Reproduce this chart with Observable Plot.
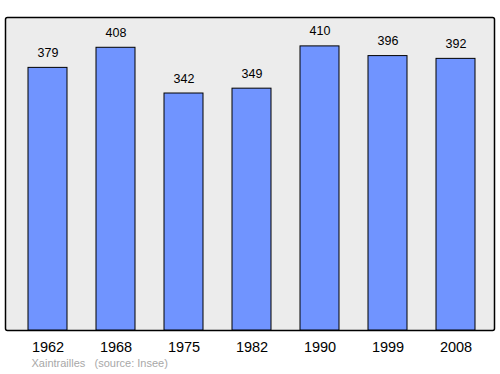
<!DOCTYPE html>
<html>
<head>
<meta charset="utf-8">
<script src="https://cdn.jsdelivr.net/npm/d3@7"></script>
<script src="https://cdn.jsdelivr.net/npm/@observablehq/plot@0.6"></script>
<style>
  html, body { margin: 0; padding: 0; background: #fff; }
  svg { display: block; }
</style>
</head>
<body>
<div id="chart"></div>
<script>
const years = ["1962", "1968", "1975", "1982", "1990", "1999", "2008"];
const population = [379, 408, 342, 349, 410, 396, 392];
const place = "Xaintrailles";
const source = "(source: Insee)";

const data = years.map((y, i) => ({year: y, pop: population[i]}));

const chart = Plot.plot({
  width: 500,
  height: 374,
  marginLeft: 5,
  marginRight: 6,
  marginTop: 17,
  marginBottom: 44,
  style: {fontFamily: "'Liberation Sans', Arial, sans-serif", background: "#fff"},
  x: {domain: years, range: [11.25, 490.75], paddingInner: 0.43, paddingOuter: 0.215, label: null},
  y: {domain: [0, 451.7], axis: null},
  marks: [
    Plot.frame({fill: "#ececec", stroke: "black", strokeWidth: 1.5, rx: 2}),
    Plot.barY(data, {x: "year", y: "pop", fill: "#7094ff", stroke: "black", strokeWidth: 1}),
    Plot.text(data, {x: "year", y: "pop", text: d => String(d.pop), dy: -15, fontSize: 12.5, fill: "black"}),
    Plot.axisX({tickSize: 0, tickPadding: 11, fontSize: 14.5, color: "black", label: null}),
    Plot.text([place], {frameAnchor: "bottom-left", dx: 26, dy: 36, fontSize: 11, fill: "#a8a8a8", textAnchor: "start"}),
    Plot.text([source], {frameAnchor: "bottom-left", dx: 89, dy: 36, fontSize: 11, fill: "#a8a8a8", textAnchor: "start"})
  ]
});
document.getElementById("chart").append(chart);
</script>
</body>
</html>
